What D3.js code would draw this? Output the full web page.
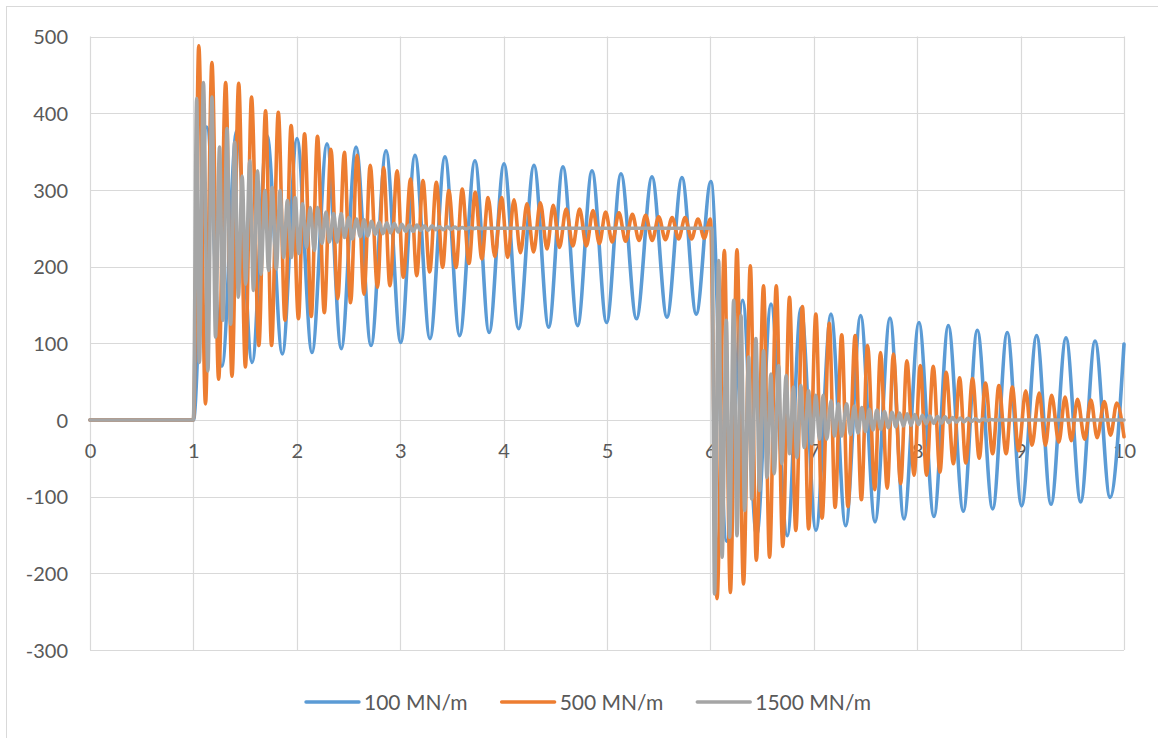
<!DOCTYPE html>
<html>
<head>
<meta charset="utf-8">
<script src="https://cdn.jsdelivr.net/npm/d3@7"></script>
<style>
  html, body { margin: 0; padding: 0; background: #ffffff; }
  svg { display: block; }
  text { font-family: Lato, "Open Sans", sans-serif; fill: #595959; }
</style>
</head>
<body>
<svg id="chart" width="1158" height="738"></svg>
<script>
// Response over time for three stiffness values: turning points [t, value]
const seriesNames = ["100 MN/m", "500 MN/m", "1500 MN/m"];
const seriesColors = ["#5B9BD5", "#ED7D31", "#A5A5A5"];

const k100 = [
  [0,0],[1.0,0],
  [1.129,382],[1.276,70],[1.419,377],[1.568,75],[1.712,371],[1.86,86],[2.002,367],[2.147,88],
  [2.292,360],[2.43,93],[2.573,356],[2.718,97],[2.863,351],[3.005,101],[3.143,345],[3.288,106],
  [3.433,343],[3.575,110],[3.723,338],[3.86,114],[4.004,334],[4.145,119],[4.294,332],[4.436,121],
  [4.574,330],[4.716,123],[4.855,325],[4.996,127],[5.135,321],[5.285,132],[5.435,317],[5.58,134],
  [5.725,316],[5.863,138],[6.005,311],
  [6.158,-158],[6.312,156],[6.447,-151],[6.586,151],[6.744,-151],[6.876,146],[7.021,-144],
  [7.166,138],[7.308,-138],[7.453,136],[7.592,-133],[7.737,133],[7.872,-129],[8.017,127],
  [8.162,-126],[8.301,123],[8.446,-119],[8.581,117],[8.73,-116],[8.871,114],[9.01,-112],
  [9.155,110],[9.294,-110],[9.439,107],[9.581,-107],[9.72,103],[9.865,-101],[10,99]
];

const k500 = [
  [0,0],[1.0,0],
  [1.052,488],[1.117,21],[1.179,466],[1.244,53],[1.312,440],[1.373,57],[1.438,439],[1.503,69],
  [1.562,421],[1.633,97],[1.698,403],[1.756,97],[1.821,401],[1.886,130],[1.945,384],[2.016,132],
  [2.075,373],[2.14,135],[2.2,370],[2.266,140],[2.33,353],[2.396,158],[2.46,349],[2.52,153],
  [2.583,345],[2.65,164],[2.71,332],[2.78,173],[2.84,329],[2.9,175],[2.97,325],[3.03,186],
  [3.1,314],[3.16,188],[3.22,312],[3.285,193],[3.35,310],[3.41,199],[3.47,299],[3.54,199],
  [3.6,301],[3.665,204],[3.725,297],[3.79,210],[3.85,290],[3.915,213],[3.98,290],[4.04,212],
  [4.1,287],[4.163,218],[4.226,282],[4.29,219],[4.355,283],[4.42,223],[4.48,280],[4.54,225],
  [4.605,275],[4.67,227],[4.735,275],[4.8,227],[4.865,273],[4.926,230],[4.987,271],[5.05,232],
  [5.116,270],[5.18,233],[5.245,268],[5.31,234],[5.374,267],[5.437,234],[5.5,265],[5.565,235],
  [5.63,264],[5.693,236],[5.755,264],[5.818,236],[5.88,262],[5.94,237],[6.0,262],
  [6.064,-233],[6.135,221],[6.193,-225],[6.257,222],[6.32,-214],[6.386,201],[6.444,-183],
  [6.514,175],[6.572,-179],[6.637,175],[6.70,-165],[6.765,160],[6.826,-144],[6.89,148],
  [6.95,-142],[7.02,138],[7.08,-128],[7.15,126],[7.206,-114],[7.27,111],[7.33,-113],[7.4,110],
  [7.46,-104],[7.52,97],[7.59,-91],[7.645,88],[7.71,-89],[7.77,86],[7.84,-83],[7.9,77],
  [7.97,-72],[8.03,71],[8.09,-72],[8.155,70],[8.22,-68],[8.28,62],[8.35,-57],[8.41,55],
  [8.47,-56],[8.535,54],[8.6,-50],[8.66,48],[8.73,-44],[8.79,45],[8.86,-44],[8.92,43],
  [8.98,-40],[9.05,38],[9.11,-33],[9.18,35],[9.24,-33],[9.3,32],[9.37,-29],[9.43,30],
  [9.49,-27],[9.55,27],[9.62,-25],[9.68,26],[9.74,-23],[9.81,24],[9.87,-20],[9.93,22],[10,-22]
];

const k1500 = [
  [0,0],[1.0,0],
  [1.032,419],[1.058,75],[1.097,440],[1.14,64],[1.179,421],[1.214,108],[1.253,356],[1.286,130],
  [1.325,380],[1.36,125],[1.399,362],[1.435,160],[1.471,318],[1.506,177],[1.545,338],[1.581,169],
  [1.62,325],[1.653,190],[1.692,299],[1.727,195],[1.763,303],[1.802,197],[1.838,299],[1.873,212],
  [1.909,286],[1.948,212],[1.984,290],[2.02,217],[2.055,282],[2.094,225],[2.13,277],[2.169,221],
  [2.201,277],[2.244,230],[2.282,271],[2.315,232],[2.357,269],[2.39,232],[2.429,269],[2.461,238],
  [2.503,264],[2.536,236],[2.578,262],[2.614,239],[2.65,261],[2.687,240],[2.723,259],[2.76,242],
  [2.797,258],[2.833,243],[2.87,257],[2.906,244],[2.943,256],[2.98,245],[3.016,255],[3.052,246],
  [3.089,254],[3.125,246],[3.162,254],[3.198,247],[3.235,253],[3.27,247],[3.308,253],[3.345,248],
  [3.38,252],[3.417,248],[3.454,252],[3.49,248.5],[3.527,251.5],[3.563,249],[3.6,251],[3.636,249],
  [3.673,251],[3.71,249.5],[3.746,250.5],[3.78,249.5],[3.82,250],[6.016,250],
  [6.04,-227],[6.08,208],[6.113,-179],[6.154,130],[6.186,-153],[6.225,156],[6.257,-151],
  [6.296,136],[6.331,-118],[6.37,82],[6.40,-103],[6.44,106],[6.476,-92],[6.514,90],[6.547,-75],
  [6.585,60],[6.617,-70],[6.66,71],[6.69,-57],[6.733,58],[6.765,-44],[6.804,43],[6.836,-49],
  [6.875,45],[6.907,-36],[6.95,38],[6.98,-31],[7.02,32],[7.055,-25],[7.09,32],[7.125,-25],
  [7.167,25],[7.2,-21],[7.238,21],[7.27,-21],[7.318,21],[7.355,-19],[7.391,18],[7.428,-17],
  [7.464,16],[7.5,-15],[7.538,14],[7.574,-13],[7.61,13],[7.647,-12],[7.684,11],[7.72,-10],
  [7.757,10],[7.793,-9],[7.83,9],[7.867,-8],[7.903,8],[7.94,-7],[7.976,7],[8.013,-6],
  [8.05,6],[8.086,-5],[8.123,5],[8.16,-4.5],[8.196,4.5],[8.233,-4],[8.27,4],[8.306,-3.5],
  [8.343,3],[8.38,-3],[8.416,2.5],[8.453,-2.5],[8.49,2],[8.526,-2],[8.563,1.5],[8.6,-1.5],
  [8.636,1],[8.673,-1],[8.71,0.5],[8.75,0],[10,0]
];

const xTicks = [0,1,2,3,4,5,6,7,8,9,10];
const yTicks = [-300,-200,-100,0,100,200,300,400,500];

const allSeries = [k100, k500, k1500];

const svg = d3.select("#chart");
const W = 1158, H = 738;
const plot = { left: 90, right: 1124, top: 36.5, bottom: 650 };

const x = d3.scaleLinear().domain([0, 10]).range([plot.left, plot.right]);
const y = d3.scaleLinear().domain([-300, 500]).range([plot.bottom, plot.top]);

// chart area frame
svg.append("rect")
  .attr("x", 6.5).attr("y", 6.5)
  .attr("width", W + 20).attr("height", H + 20)
  .attr("fill", "#ffffff")
  .attr("stroke", "#D9D9D9").attr("stroke-width", 1);

// gridlines
const grid = svg.append("g").attr("stroke", "#D9D9D9").attr("stroke-width", 1.2);
grid.selectAll("line.h").data(yTicks).join("line")
  .attr("x1", plot.left).attr("x2", plot.right)
  .attr("y1", d => Math.round(y(d)) + 0.5).attr("y2", d => Math.round(y(d)) + 0.5);
grid.selectAll("line.v").data(xTicks).join("line")
  .attr("y1", plot.top).attr("y2", plot.bottom)
  .attr("x1", d => Math.round(x(d)) + 0.5).attr("x2", d => Math.round(x(d)) + 0.5);

const plainNumber = d => String(d);

// y axis labels
const yAxis = d3.axisLeft(y).tickValues(yTicks).tickSize(0).tickPadding(0).tickFormat(plainNumber);
const yg = svg.append("g").attr("transform", `translate(${68},0)`).call(yAxis);
yg.select(".domain").remove();
yg.selectAll("text")
  .attr("font-size", 20).attr("fill", "#595959")
  .style("font-family", "Lato, 'Open Sans', sans-serif")
  .attr("dy", "0.36em");

// x axis labels, sitting under the zero line
const xAxis = d3.axisBottom(x).tickValues(xTicks).tickSize(0).tickPadding(0).tickFormat(plainNumber);
const xg = svg.append("g").attr("transform", `translate(0,${y(0)})`).call(xAxis);
xg.select(".domain").remove();
xg.selectAll("text")
  .attr("font-size", 20).attr("fill", "#595959")
  .style("font-family", "Lato, 'Open Sans', sans-serif")
  .attr("y", 31).attr("dy", "0.36em");

// series lines
svg.append("clipPath").attr("id", "plotClip")
  .append("rect").attr("x", plot.left - 4).attr("y", plot.top - 10)
  .attr("width", plot.right - plot.left + 8).attr("height", plot.bottom - plot.top + 20);

const line = d3.line()
  .x(d => x(d[0]))
  .y(d => y(d[1]))
  .curve(d3.curveMonotoneX);

const lines = svg.append("g").attr("clip-path", "url(#plotClip)");
allSeries.forEach((s, i) => {
  lines.append("path")
    .datum(s)
    .attr("d", line)
    .attr("fill", "none")
    .attr("stroke", seriesColors[i])
    .attr("stroke-width", 3.6)
    .attr("stroke-linejoin", "round")
    .attr("stroke-linecap", "round");
});

// legend
const legend = svg.append("g").attr("transform", "translate(0,702)");
let lx = 306;
seriesNames.forEach((name, i) => {
  legend.append("line")
    .attr("x1", lx).attr("x2", lx + 53)
    .attr("y1", 0).attr("y2", 0)
    .attr("stroke", seriesColors[i]).attr("stroke-width", 3.4)
    .attr("stroke-linecap", "round");
  const t = legend.append("text")
    .attr("x", lx + 58).attr("y", 0).attr("dy", "0.36em")
    .attr("font-size", 21).text(name);
  lx += 58 + t.node().getComputedTextLength() + 34;
});
</script>
</body>
</html>
